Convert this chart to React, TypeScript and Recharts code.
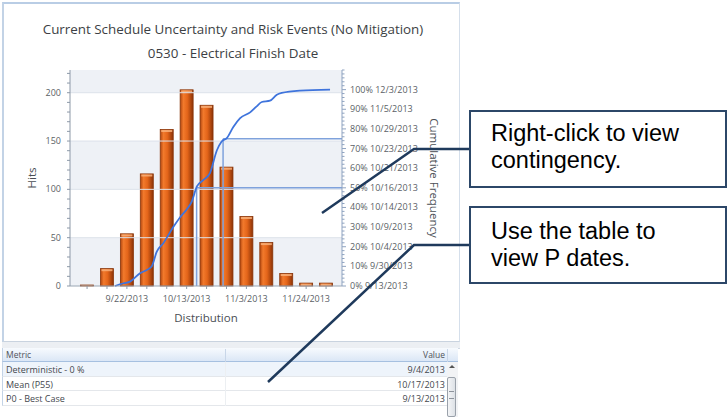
import React from "react";
import { ComposedChart, Bar, Line, XAxis, YAxis, ReferenceArea, ReferenceLine, Label } from "recharts";

// days counted from 9/1/2013
const BIN_DAYS = [7, 14, 21, 28, 35, 42, 49, 56, 63, 70, 77, 84, 91];
const HITS = [1, 18, 54, 116, 162, 203, 187, 123, 72, 45, 13, 3, 3];

const CUM_DAYS = [16.8, 19.8, 22.1, 25.6, 28.0, 29.7, 31.5, 33.8, 37.3, 39.7, 42.0, 43.8, 45.6, 47.9, 50.2, 52.6, 54.3, 56.1, 58.4, 60.8, 64.3, 66.6, 68.4, 71.3, 73.7, 75.4, 81.9, 92.4];
const CUM_PCT = [0, 1.4, 2.2, 6.5, 8.2, 9.9, 17.5, 21.8, 30, 35, 39, 43, 50.7, 54, 57.5, 69, 73.6, 75.3, 81, 85.5, 88.4, 91.5, 93.7, 94.4, 97.4, 98.3, 99.5, 100];

const X_LABEL_DAYS = [21, 42, 63, 84];
const X_LABELS = ["9/22/2013", "10/13/2013", "11/3/2013", "11/24/2013"];

const HIT_LABELS = [0, 50, 100, 150, 200];
const PCT_LABELS = [0, 10, 20, 30, 40, 50, 60, 70, 80, 90, 100];
const PCT_DATES = ["9/13/2013", "9/30/2013", "10/4/2013", "10/9/2013", "10/14/2013", "10/16/2013", "10/21/2013", "10/23/2013", "10/29/2013", "11/5/2013", "12/3/2013"];

// P50 / P75 markers
const P_DAYS = [45.5, 54.8];
const P_PCTS = [50, 75];

const METRICS = ["Deterministic - 0 %", "Mean (P55)", "P0 - Best Case"];
const METRIC_VALUES = ["9/4/2013", "10/17/2013", "9/13/2013"];

const X_MIN = 1;
const X_MAX = 96.6;
const HITS_MAX = 223.5;
const PCT_MAX = 110;
const BAR_W = 13;

const FONT = "'Open Sans', 'Noto Sans', sans-serif";
const TICK = "#5b5f66";

const steps = (a: number, b: number, s: number) => {
  const out: number[] = [];
  for (let v = a; v <= b + 1e-9; v += s) out.push(v);
  return out;
};

const barData = BIN_DAYS.map((d, i) => ({ day: d, hits: HITS[i] }));
const cumData = CUM_DAYS.map((d, i) => ({ day: d, pct: CUM_PCT[i] }));

function HitsTick(p: any) {
  const { x, y, payload } = p;
  const v = payload.value;
  return (
    <g>
      <line x1={x - 3} x2={x} y1={y} y2={y} stroke="#8d99a8" />
      {HIT_LABELS.includes(v) && (
        <text x={x - 9} y={y + 3} textAnchor="end" fontSize={9} fill={TICK} fontFamily={FONT}>{v}</text>
      )}
    </g>
  );
}

function PctTick(p: any) {
  const { x, y, payload } = p;
  const v = payload.value;
  const idx = PCT_LABELS.indexOf(v);
  return (
    <g>
      <line x1={x} x2={x + (idx >= 0 ? 4 : 2.5)} y1={y} y2={y} stroke="#8fa3c0" />
      {idx >= 0 && (
        <text x={x + 8} y={y + 3} fontSize={9} fill={TICK} fontFamily={FONT}>{`${v}% ${PCT_DATES[idx]}`}</text>
      )}
    </g>
  );
}

function DayTick(p: any) {
  const { x, y, payload } = p;
  const idx = X_LABEL_DAYS.indexOf(payload.value);
  return (
    <g>
      <line x1={x} x2={x} y1={y} y2={y + 3} stroke="#8d99a8" />
      {idx >= 0 && (
        <text x={x} y={y + 16} textAnchor="middle" fontSize={9} fill={TICK} fontFamily={FONT}>{X_LABELS[idx]}</text>
      )}
    </g>
  );
}

// bar body is centred on the scaled x the library gives us
function OrangeBar(p: any) {
  const { x, y, width, height } = p;
  if (!height || height <= 0) return null;
  const cx = x + width / 2;
  const left = cx - BAR_W / 2;
  return (
    <g>
      <rect x={left} y={y} width={BAR_W} height={height} fill="url(#barFill)" stroke="#8a360a" strokeWidth={0.8} />
      <rect x={left + 1} y={y + 0.6} width={BAR_W - 2} height={Math.min(2, height)} fill="#f8b07a" opacity={0.85} />
    </g>
  );
}

function Callout({ left, top, lines, padTop }: { left: number; top: number; lines: string[]; padTop: number }) {
  return (
    <div
      style={{
        position: "absolute",
        left,
        top,
        width: 258,
        height: 78,
        boxSizing: "border-box",
        border: "2.5px solid #2c4768",
        background: "#fff",
        paddingLeft: 20,
        paddingTop: padTop,
        fontFamily: "'Liberation Sans', Arial, sans-serif",
        fontSize: 23.5,
        lineHeight: "27px",
        color: "#000",
        whiteSpace: "nowrap",
      }}
    >
      {lines.map((l) => (
        <div key={l}>{l}</div>
      ))}
    </div>
  );
}

export default function App() {
  const rowTop = 362;
  const rowH = 14.6;
  return (
    <div style={{ position: "fixed", left: 0, top: 0, width: 728, height: 417, background: "#fff", overflow: "hidden" }}>
      {/* chart panel */}
      <div style={{ position: "absolute", left: 2, top: 2, width: 458, height: 340, boxSizing: "border-box", borderTop: "2px solid #b9cde5", borderLeft: "2px solid #c3d3e6", borderRight: "1px solid #d5dfeb", borderBottom: "1px solid #c9d3df" }} />
      <div style={{ position: "absolute", left: 3, top: 20, width: 460, textAlign: "center", fontFamily: FONT, fontSize: 13.4, color: "#3c3f44" }}>
        Current Schedule Uncertainty and Risk Events (No Mitigation)
      </div>
      <div style={{ position: "absolute", left: 3, top: 44, width: 460, textAlign: "center", fontFamily: FONT, fontSize: 13.4, color: "#3c3f44" }}>
        0530 - Electrical Finish Date
      </div>

      <div style={{ position: "absolute", left: 0, top: 0 }}>
        <ComposedChart width={460} height={340} data={barData} margin={{ top: 70, right: 0, bottom: 14, left: 0 }}>
          <defs>
            <linearGradient id="barFill" x1="0" y1="0" x2="1" y2="0">
              <stop offset="0%" stopColor="#b2460f" />
              <stop offset="25%" stopColor="#f27a2c" />
              <stop offset="55%" stopColor="#e4651a" />
              <stop offset="100%" stopColor="#8c3307" />
            </linearGradient>
          </defs>
          <ReferenceArea yAxisId="hits" y1={0} y2={50} fill="#eef1f6" fillOpacity={1} stroke="none" />
          <ReferenceArea yAxisId="hits" y1={100} y2={150} fill="#eef1f6" fillOpacity={1} stroke="none" />
          <ReferenceArea yAxisId="hits" y1={200} y2={HITS_MAX} fill="#eef1f6" fillOpacity={1} stroke="none" />
          {HIT_LABELS.slice(1).map((v) => (
            <ReferenceLine key={v} yAxisId="hits" y={v} stroke="#dce2ea" strokeWidth={1} />
          ))}
          <XAxis
            dataKey="day"
            type="number"
            domain={[X_MIN, X_MAX]}
            ticks={BIN_DAYS}
            interval={0}
            tickSize={0}
            tickMargin={0}
            tick={DayTick}
            height={40}
            axisLine={{ stroke: "#9aa6b4" }}
            tickLine={false}
          >
            <Label
              content={(lp: any) => {
                const vb = lp.viewBox;
                return (
                  <text x={vb.x + vb.width / 2} y={vb.y + 36} textAnchor="middle" fontSize={11.5} fill="#4a4e55" fontFamily={FONT}>Distribution</text>
                );
              }}
            />
          </XAxis>
          <YAxis
            yAxisId="hits"
            domain={[0, HITS_MAX]}
            ticks={steps(0, 220, 10)}
            interval={0}
            tickSize={0}
            tickMargin={0}
            tick={HitsTick}
            width={70}
            axisLine={{ stroke: "#8d99a8" }}
            tickLine={false}
          >
            <Label
              content={(lp: any) => {
                const vb = lp.viewBox;
                const cx = 31;
                const cy = vb.y + vb.height / 2;
                return (
                  <text x={cx} y={cy} transform={`rotate(-90 ${cx} ${cy})`} textAnchor="middle" dominantBaseline="central" fontSize={11.5} fill="#4a4e55" fontFamily={FONT}>Hits</text>
                );
              }}
            />
          </YAxis>
          <YAxis
            yAxisId="pct"
            orientation="right"
            domain={[0, PCT_MAX]}
            ticks={steps(0, 110, 2)}
            interval={0}
            tickSize={0}
            tickMargin={0}
            tick={PctTick}
            width={118}
            axisLine={{ stroke: "#8fa3c0" }}
            tickLine={false}
          >
            <Label
              content={(lp: any) => {
                const vb = lp.viewBox;
                const cx = 434;
                const cy = vb.y + vb.height / 2;
                return (
                  <text x={cx} y={cy} transform={`rotate(90 ${cx} ${cy})`} textAnchor="middle" dominantBaseline="central" fontSize={11.5} fill="#4a4e55" fontFamily={FONT}>Cumulative Frequency</text>
                );
              }}
            />
          </YAxis>
          <Bar yAxisId="hits" dataKey="hits" barSize={BAR_W} shape={OrangeBar} isAnimationActive={false} />
          {P_DAYS.map((d, i) => (
            <ReferenceLine key={`v${i}`} yAxisId="pct" segment={[{ x: d, y: 0 }, { x: d, y: P_PCTS[i] }]} stroke="#7fa2dc" strokeWidth={1.5} />
          ))}
          {P_DAYS.map((d, i) => (
            <ReferenceLine key={`h${i}`} yAxisId="pct" segment={[{ x: d, y: P_PCTS[i] }, { x: X_MAX, y: P_PCTS[i] }]} stroke="#7fa2dc" strokeWidth={1.5} />
          ))}
          <Line yAxisId="pct" data={cumData} dataKey="pct" type="monotone" stroke="#3f74dc" strokeWidth={1.8} dot={false} isAnimationActive={false} />
        </ComposedChart>
      </div>

      {/* gap between chart and table */}
      <div style={{ position: "absolute", left: 2, top: 342, width: 458, height: 6, background: "#eceff3", borderBottom: "1px solid #cfd8e3" }} />

      {/* table */}
      <div style={{ position: "absolute", left: 2, top: 348, width: 456, height: 14, boxSizing: "border-box", background: "linear-gradient(#f7fafe, #dbe7f6)", borderBottom: "1px solid #a6c0e0", borderLeft: "1px solid #c3d3e6" }} />
      <div style={{ position: "absolute", left: 225, top: 349, width: 1, height: 13, background: "#c8d6e8" }} />
      <div style={{ position: "absolute", left: 447, top: 349, width: 1, height: 13, background: "#c8d6e8" }} />
      <div style={{ position: "absolute", left: 6, top: 349, fontFamily: FONT, fontSize: 8.5, color: "#4f535a" }}>Metric</div>
      <div style={{ position: "absolute", left: 300, width: 145, top: 349, textAlign: "right", fontFamily: FONT, fontSize: 8.5, color: "#4f535a" }}>Value</div>
      {METRICS.map((m, i) => (
        <div key={m}>
          <div style={{ position: "absolute", left: 2, top: rowTop + i * rowH, width: 445, height: rowH, boxSizing: "border-box", background: i === 0 ? "#eef4fb" : "#fff", borderBottom: "1px solid #e4e7eb", borderLeft: "1px solid #c3d3e6" }} />
          <div style={{ position: "absolute", left: 225, top: rowTop + i * rowH, width: 1, height: rowH, background: "#eceff2" }} />
          <div style={{ position: "absolute", left: 6, top: rowTop + i * rowH + 1, fontFamily: FONT, fontSize: 9, color: "#44474d" }}>{m}</div>
          <div style={{ position: "absolute", left: 300, width: 145, top: rowTop + i * rowH + 1, textAlign: "right", fontFamily: FONT, fontSize: 9, color: "#44474d" }}>{METRIC_VALUES[i]}</div>
        </div>
      ))}
      {/* scrollbar */}
      <div style={{ position: "absolute", left: 447, top: 362, width: 11, height: 55, background: "#f2f3f5" }} />
      <div style={{ position: "absolute", left: 449, top: 365, width: 0, height: 0, borderLeft: "3px solid transparent", borderRight: "3px solid transparent", borderBottom: "3px solid #555" }} />
      <div style={{ position: "absolute", left: 447, top: 377, width: 9, height: 40, boxSizing: "border-box", border: "1px solid #9aa1aa", borderRadius: 2, background: "linear-gradient(90deg, #f4f5f7, #dde1e6)" }} />
      <div style={{ position: "absolute", left: 449, top: 391, width: 5, height: 6, borderTop: "1px solid #8d939c", borderBottom: "1px solid #8d939c" }} />

      {/* callout leaders */}
      <svg width={728} height={417} style={{ position: "absolute", left: 0, top: 0 }}>
        <polyline points="470,149 414,149 322,213" fill="none" stroke="#1f3a5c" strokeWidth={2.5} />
        <polyline points="470,245 414,245 268,382" fill="none" stroke="#1f3a5c" strokeWidth={2.5} />
      </svg>

      <Callout left={469} top={110} padTop={8} lines={["Right-click to view", "contingency."]} />
      <Callout left={469} top={206} padTop={10} lines={["Use the table to", "view P dates."]} />
    </div>
  );
}
